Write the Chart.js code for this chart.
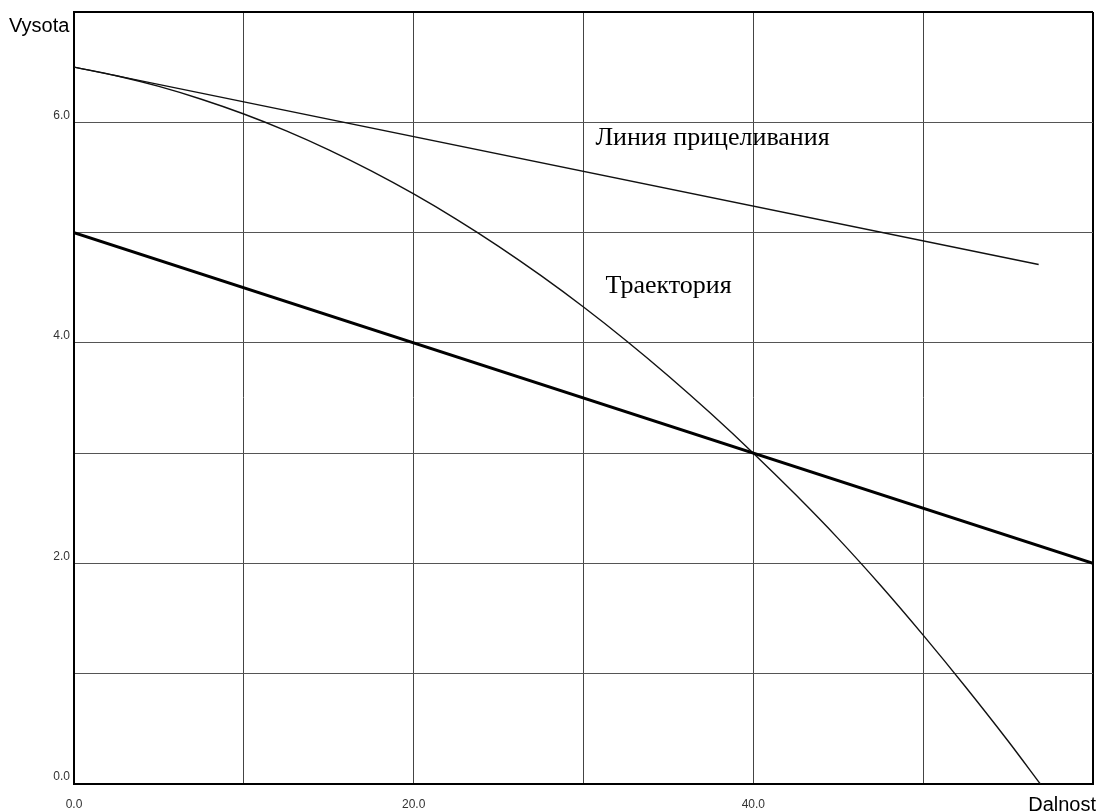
<!DOCTYPE html>
<html>
<head>
<meta charset="utf-8">
<script src="https://cdn.jsdelivr.net/npm/chart.js@4/dist/chart.umd.min.js"></script>
<style>
  html, body { margin: 0; padding: 0; background: #fff; }
  #wrap { width: 1097px; height: 812px; position: relative; }
</style>
</head>
<body>
<div id="wrap"><canvas id="c" width="1097" height="812"></canvas></div>
<script>
// Trajectory of the shot (distance, height)
const trajectoryX = [0, 2.5, 5, 7.5, 10, 12.5, 15, 17.5, 20, 22.5, 25, 27.5, 30, 32.5, 35, 37.5, 40, 42.5, 45, 47.5, 50, 52.5, 55, 56.9];
const trajectoryY = [6.500, 6.422, 6.325, 6.209, 6.075, 5.922, 5.750, 5.559, 5.350, 5.122, 4.875, 4.609, 4.325, 4.022, 3.700, 3.359, 3.000, 2.622, 2.225, 1.800, 1.350, 0.880, 0.390, 0.000];

// Line of sight
const sightX = [0, 56.8];
const sightY = [6.5, 4.71];

// Ground / target line (thick)
const groundX = [0, 60];
const groundY = [5.0, 2.0];

// Axis ranges and labelled ticks
const xRange = [0, 60];
const yRange = [0, 7];
const xLabelled = [0, 20, 40];
const yLabelled = [0, 2, 4, 6];

// Captions placed on the plot (x, y in data units; y is the text baseline)
const captions = [
  { text: 'Линия прицеливания', x: 30.7, y: 5.79 },
  { text: 'Траектория', x: 31.3, y: 4.45 }
];

const toPoints = (xs, ys) => xs.map((x, i) => ({ x: x, y: ys[i] }));

const overlay = {
  id: 'overlay',
  afterDraw(chart) {
    const { ctx, scales } = chart;
    const xs = scales.x, ys = scales.y;
    ctx.save();
    // captions on the plot
    ctx.fillStyle = '#000';
    ctx.font = '26px "Liberation Serif", "Times New Roman", serif';
    ctx.textAlign = 'left';
    ctx.textBaseline = 'alphabetic';
    captions.forEach(c => {
      ctx.fillText(c.text, xs.getPixelForValue(c.x), ys.getPixelForValue(c.y));
    });
    // axis names
    ctx.font = '20px "Liberation Sans", Arial, sans-serif';
    ctx.textAlign = 'left';
    ctx.fillText('Vysota', 9, ys.getPixelForValue(yRange[1]) + 20);
    ctx.textAlign = 'right';
    ctx.fillText('Dalnost', 1096, xs.top + 27);
    ctx.restore();
  }
};

const edgeColor = (max, dark) => ctx => (ctx.tick && ctx.tick.value === max ? '#000' : dark);
const edgeWidth = max => ctx => (ctx.tick && ctx.tick.value === max ? 2 : 1);

new Chart(document.getElementById('c'), {
  type: 'scatter',
  data: {
    datasets: [
      {
        data: toPoints(groundX, groundY),
        showLine: true, borderColor: '#000', borderWidth: 3,
        pointRadius: 0, fill: false
      },
      {
        data: toPoints(sightX, sightY),
        showLine: true, borderColor: '#111', borderWidth: 1.4,
        pointRadius: 0, fill: false
      },
      {
        data: toPoints(trajectoryX, trajectoryY),
        showLine: true, borderColor: '#111', borderWidth: 1.4,
        pointRadius: 0, fill: false, cubicInterpolationMode: 'monotone'
      }
    ]
  },
  options: {
    responsive: false,
    animation: false,
    layout: { padding: { top: 12, right: 4, left: 0, bottom: 0 } },
    plugins: { legend: { display: false }, tooltip: { enabled: false } },
    scales: {
      x: {
        type: 'linear', min: xRange[0], max: xRange[1],
        ticks: {
          stepSize: 10, autoSkip: false, maxRotation: 0, padding: 13,
          color: '#333', font: { family: '"Liberation Sans", Arial, sans-serif', size: 12 },
          callback: v => (xLabelled.includes(v) ? v.toFixed(1) : '')
        },
        grid: { color: edgeColor(xRange[1], '#444'), lineWidth: edgeWidth(xRange[1]), drawTicks: false },
        border: { color: '#000', width: 2 },
        afterFit: s => { s.height = 28; s.paddingLeft = 0; s.paddingRight = 0; }
      },
      y: {
        type: 'linear', min: yRange[0], max: yRange[1],
        ticks: {
          stepSize: 1, autoSkip: false, padding: 4, labelOffset: -7,
          color: '#333', font: { family: '"Liberation Sans", Arial, sans-serif', size: 12 },
          callback: v => (yLabelled.includes(v) ? v.toFixed(1) : '')
        },
        grid: { color: edgeColor(yRange[1], '#555'), lineWidth: edgeWidth(yRange[1]), drawTicks: false },
        border: { color: '#000', width: 2 },
        afterFit: s => { s.width = 74; s.paddingTop = 0; s.paddingBottom = 0; }
      }
    }
  },
  plugins: [overlay]
});
</script>
</body>
</html>
